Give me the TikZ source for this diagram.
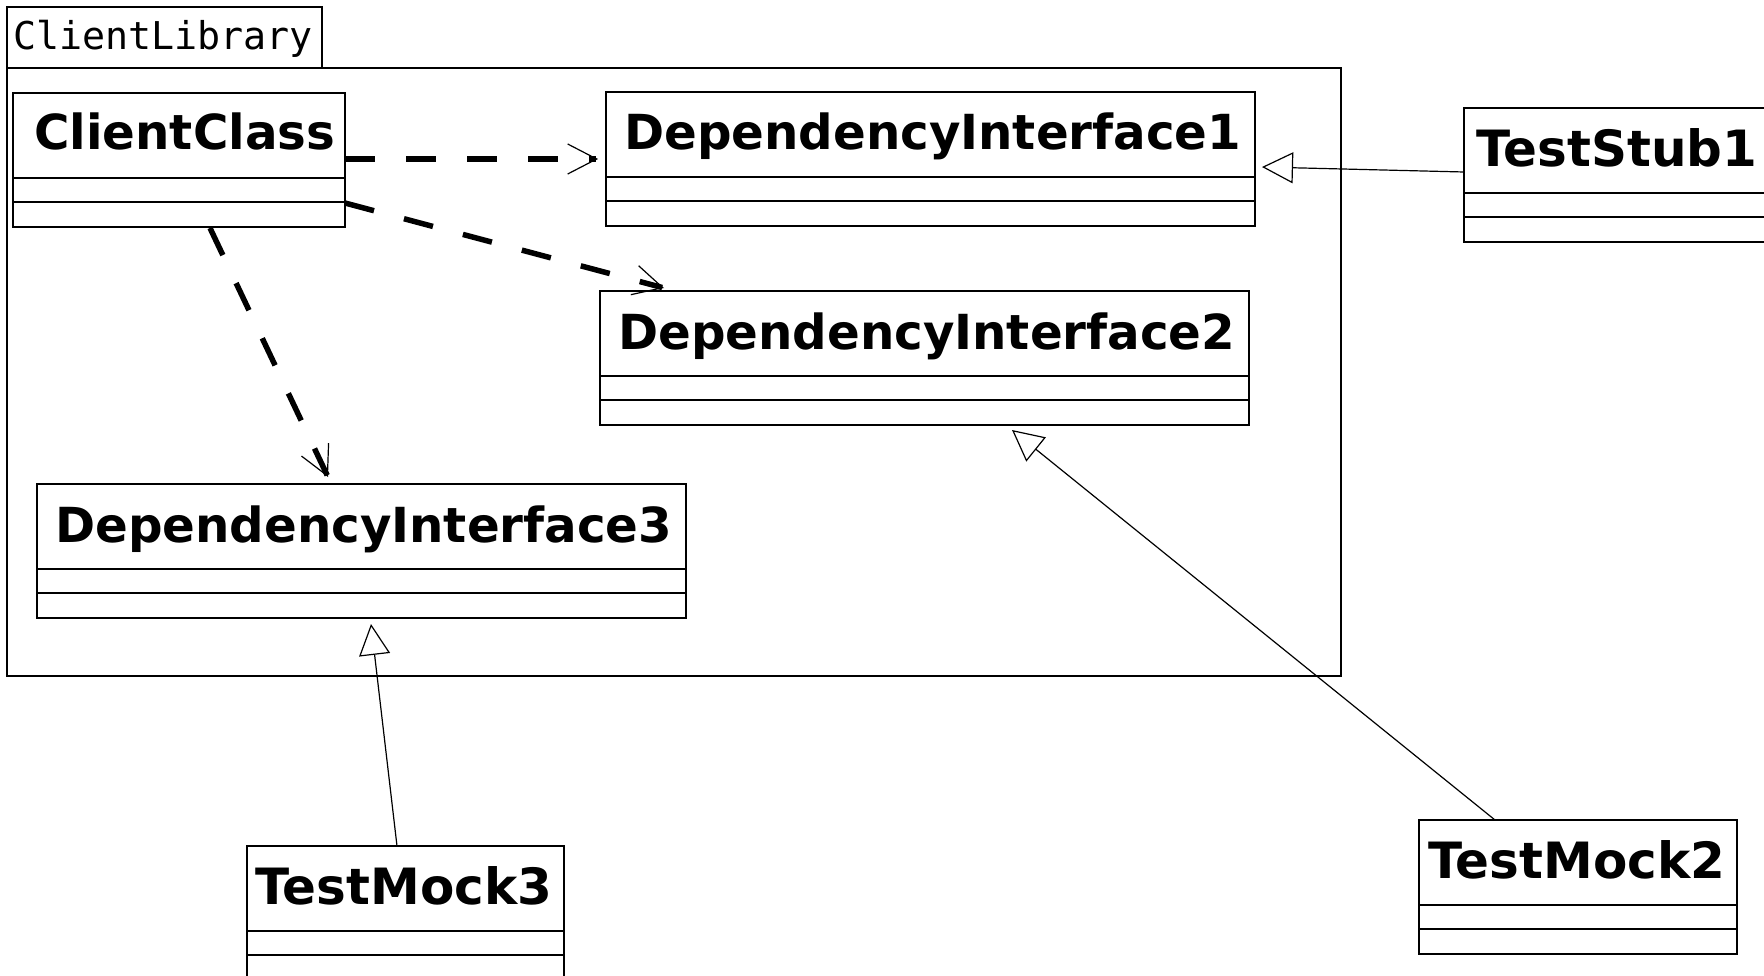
\documentclass[tikz,border=0pt]{standalone}
\usepackage{fontspec}
\setmainfont{DejaVu Sans}
\newfontfamily\pkgfont{DejaVu Sans Mono}
\usetikzlibrary{arrows.meta,calc}
\newcommand\umlclass[8]{%
  \node[umlbox, minimum width=#4pt, minimum height=134pt] (#1) at (#2,#3) {};
  \node[ttl, font=\fontsize{#7}{58}\selectfont\bfseries] (#1-t) at ($(#1.north west)+(#5,#8)$) {#6};
  \draw[thinline] ($(#1.north west)+(0,85)$) -- ($(#1.north east)+(0,85)$);
  \draw[thinline] ($(#1.north west)+(0,109)$) -- ($(#1.north east)+(0,109)$);
}
\begin{document}
\begin{tikzpicture}[x=1pt,y=-1pt,
  thinline/.style={line width=1.3pt, draw=black},
  umlbox/.style={draw=black, line width=1.3pt, inner sep=0pt, outer sep=0pt, anchor=north west, fill=white},
  ttl/.style={anchor=base west, inner sep=0pt},
  dep/.style={line width=5.5pt, dash pattern=on 30pt off 31pt, -{Straight Barb[length=29pt,width=30pt,line width'=1.2pt]}},
  gen/.style={line width=1.2pt, -{Triangle[open,length=31pt,width=31pt]}},
]
\useasboundingbox (0,0) rectangle (1764,976);
\fill[white] (0,0) rectangle (1764,976);
\clip (0,0) rectangle (1764,976);

% package
\node[umlbox, minimum width=315pt, minimum height=61pt] (pkgtab) at (7,7) {};
\node[anchor=base west, inner sep=0pt, font=\pkgfont\fontsize{38.3}{46}\selectfont] (pkglabel) at (13,50) {ClientLibrary};
\node[umlbox, minimum width=1334pt, minimum height=608pt] (pkg) at (7,68) {};

% classes
\umlclass{cc}{13}{93}{332}{21}{ClientClass}{48.3}{57}
\umlclass{di1}{606}{92}{649}{18}{DependencyInterface1}{48.3}{58}
\umlclass{di2}{600}{291}{649}{18}{DependencyInterface2}{48.3}{58}
\umlclass{di3}{37}{484}{649}{18}{DependencyInterface3}{48.3}{58}
\umlclass{ts1}{1464}{108}{330}{12}{TestStub1}{50}{59}
\umlclass{tm3}{247}{846}{317}{8}{TestMock3}{50}{58}
\umlclass{tm2}{1419}{820}{318}{9}{TestMock2}{50}{58}

% dependencies
\draw[dep] ($(cc.north east)+(0,66)$) -- ($(di1.north west)+(-8,67)$);
\draw[dep] ($(cc.north east)+(0,110)$) -- ($(di2.north west)+(64,-3)$);
\draw[dep] ($(cc.south west)+(197,1)$) -- ($(di3.north west)+(291,-7)$);

% generalizations
\draw[gen] ($(ts1.north west)+(0,64)$) -- ($(di1.north east)+(7,75)$);
\draw[gen] ($(tm2.north west)+(76,0)$) -- ($(di2.south west)+(412,5)$);
\draw[gen] ($(tm3.north west)+(150,0)$) -- ($(di3.south west)+(334,6)$);
\end{tikzpicture}
\end{document}
